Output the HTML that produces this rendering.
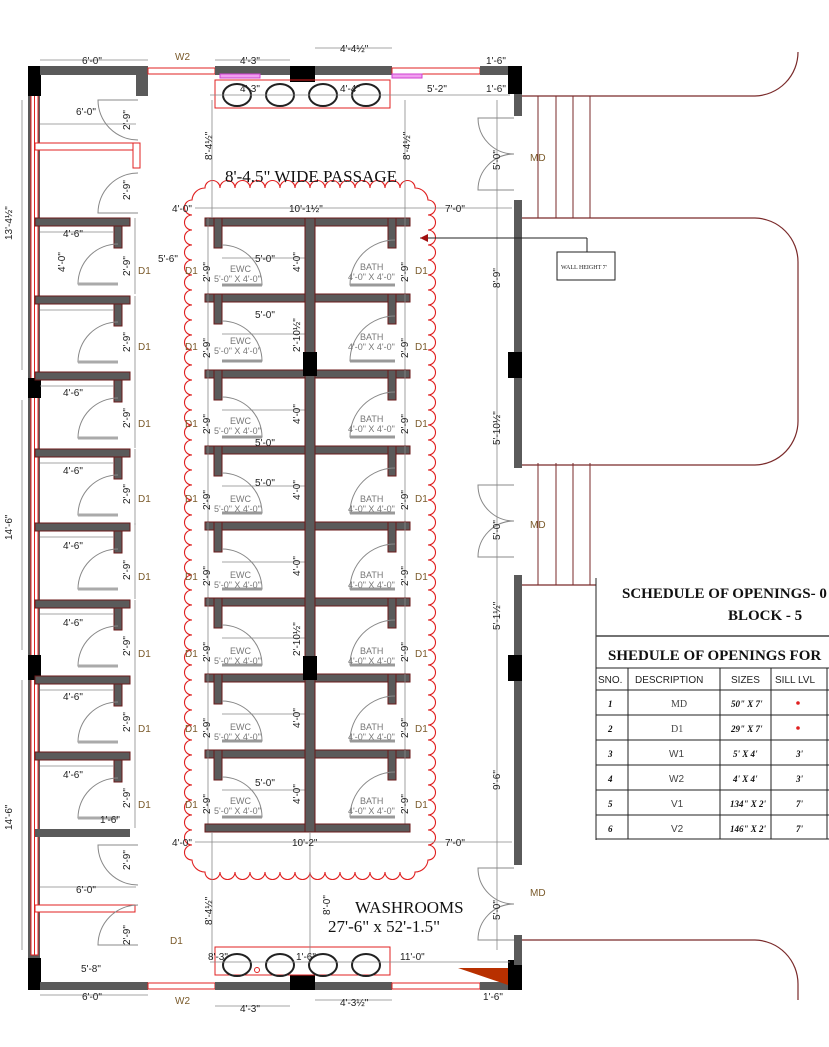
<!DOCTYPE html>
<html><head><meta charset="utf-8"><style>
html,body{margin:0;padding:0;background:#fff;}
svg{display:block;font-family:"Liberation Sans",sans-serif;}
.d{font-size:10px;fill:#222;}
.l{font-size:9px;fill:#777;}
.o{font-size:10px;fill:#7a5a2a;}
</style></head><body>
<svg width="829" height="1047" viewBox="0 0 829 1047" xmlns="http://www.w3.org/2000/svg">
<defs>
<g id="row">
 <rect x="205" y="0" width="205" height="8" fill="#5a5a5a" stroke="#6b1a1a" stroke-width="1"/>
 <rect x="214" y="0" width="8" height="30" fill="#5a5a5a" stroke="#6b1a1a" stroke-width="1"/>
 <rect x="388" y="0" width="8" height="30" fill="#5a5a5a" stroke="#6b1a1a" stroke-width="1"/>
 <path d="M222 67 L262 67 A40 40 0 0 0 222 27" fill="none" stroke="#888" stroke-width="1"/>
 <path d="M395 67 L350 67 A45 45 0 0 1 395 22" fill="none" stroke="#888" stroke-width="1"/>
 <line x1="222" y1="67" x2="262" y2="67" stroke="#999" stroke-width="3"/>
 <line x1="395" y1="67" x2="350" y2="67" stroke="#999" stroke-width="3"/>
 <line x1="222" y1="40" x2="305" y2="40" stroke="#888" stroke-width="0.8"/>
 <line x1="208" y1="0" x2="208" y2="76" stroke="#888" stroke-width="0.8"/>
 <line x1="405" y1="0" x2="405" y2="76" stroke="#888" stroke-width="0.8"/>
</g>
<g id="lrow">
 <rect x="35" y="0" width="95" height="8" fill="#5a5a5a" stroke="#6b1a1a" stroke-width="1"/>
 <rect x="114" y="8" width="8" height="22" fill="#5a5a5a" stroke="#6b1a1a" stroke-width="1"/>
 <path d="M118 66 L78 66 A40 40 0 0 1 118 26" fill="none" stroke="#888" stroke-width="1"/>
 <line x1="118" y1="66" x2="78" y2="66" stroke="#aaa" stroke-width="3"/>
 <line x1="40" y1="14" x2="114" y2="14" stroke="#888" stroke-width="0.8"/>
 <line x1="135" y1="0" x2="135" y2="76" stroke="#888" stroke-width="0.8"/>
</g>
<g id="stair">
 <line x1="538" y1="0" x2="538" y2="122" stroke="#7a2a2a"/>
 <line x1="556" y1="0" x2="556" y2="122" stroke="#7a2a2a"/>
 <line x1="573" y1="0" x2="573" y2="122" stroke="#7a2a2a"/>
 <line x1="590" y1="0" x2="590" y2="122" stroke="#7a2a2a"/>
</g>
<g id="md">
 <path d="M514 0 L478 0 A36 36 0 0 0 514 36 A36 36 0 0 0 478 72 L514 72" fill="none" stroke="#888"/>
</g>
</defs>

<g fill="none" stroke="#7a2a2a" stroke-width="1.2">
 <path d="M522 96 L755 96 A44 44 0 0 0 798 52"/>
 <path d="M522 218 L755 218 A44 44 0 0 1 798 262 L798 420 A44 44 0 0 1 755 465 L522 465"/>
 <path d="M522 585 L596 585"/>
 <path d="M522 940 L755 940 A44 44 0 0 1 798 984 L798 1000"/>
</g>
<use href="#stair" y="96"/>
<use href="#stair" y="463"/>

<rect x="28" y="66" width="12" height="924" fill="#5a5a5a"/>
<rect x="31" y="95" width="7" height="860" fill="#fff" stroke="#e02020" stroke-width="1"/>
<line x1="34.5" y1="95" x2="34.5" y2="955" stroke="#e02020"/>
<rect x="28" y="66" width="13" height="30" fill="#000"/>
<rect x="28" y="378" width="13" height="20" fill="#000"/>
<rect x="28" y="655" width="13" height="25" fill="#000"/>
<rect x="28" y="958" width="13" height="32" fill="#000"/>
<rect x="40" y="66" width="108" height="9" fill="#5a5a5a"/>
<rect x="136" y="66" width="12" height="30" fill="#5a5a5a"/>
<rect x="148" y="68" width="67" height="6" fill="#fff" stroke="#e02020"/>
<rect x="215" y="66" width="75" height="9" fill="#5a5a5a"/>
<rect x="290" y="66" width="25" height="16" fill="#000"/>
<rect x="315" y="66" width="77" height="9" fill="#5a5a5a"/>
<rect x="392" y="68" width="88" height="6" fill="#fff" stroke="#e02020"/>
<rect x="480" y="66" width="30" height="9" fill="#5a5a5a"/>
<rect x="508" y="66" width="14" height="28" fill="#000"/>
<rect x="40" y="982" width="108" height="8" fill="#5a5a5a"/>
<rect x="148" y="983" width="67" height="6" fill="#fff" stroke="#e02020"/>
<rect x="215" y="982" width="75" height="8" fill="#5a5a5a"/>
<rect x="290" y="975" width="25" height="15" fill="#000"/>
<rect x="315" y="982" width="77" height="8" fill="#5a5a5a"/>
<rect x="392" y="983" width="88" height="6" fill="#fff" stroke="#e02020"/>
<rect x="480" y="982" width="30" height="8" fill="#5a5a5a"/>
<rect x="508" y="960" width="14" height="30" fill="#000"/>
<polygon points="458,968 508,968 508,985" fill="#b83000"/>
<rect x="514" y="94" width="8" height="22" fill="#5a5a5a"/>
<rect x="514" y="200" width="8" height="268" fill="#5a5a5a"/>
<rect x="514" y="575" width="8" height="290" fill="#5a5a5a"/>
<rect x="514" y="935" width="8" height="30" fill="#5a5a5a"/>
<rect x="508" y="352" width="14" height="26" fill="#000"/>
<rect x="508" y="655" width="14" height="26" fill="#000"/>
<use href="#md" y="118"/>
<use href="#md" y="485"/>
<use href="#md" y="868"/>
<text x="530" y="161" class="o">MD</text>
<text x="530" y="528" class="o">MD</text>
<text x="530" y="896" class="o">MD</text>

<rect x="35" y="143" width="105" height="7" fill="#fff" stroke="#e02020"/>
<rect x="133" y="143" width="7" height="25" fill="#fff" stroke="#e02020"/>
<use href="#lrow" y="218"/>
<use href="#lrow" y="296"/>
<use href="#lrow" y="372"/>
<use href="#lrow" y="449"/>
<use href="#lrow" y="523"/>
<use href="#lrow" y="600"/>
<use href="#lrow" y="676"/>
<use href="#lrow" y="752"/>
<rect x="35" y="829" width="95" height="8" fill="#5a5a5a"/>
<rect x="35" y="905" width="100" height="7" fill="#fff" stroke="#e02020"/>
<path d="M138 100 L98 100 A40 40 0 0 0 138 140" fill="none" stroke="#888"/>
<path d="M138 213 L98 213 A40 40 0 0 1 138 173" fill="none" stroke="#888"/>
<path d="M138 845 L98 845 A40 40 0 0 0 138 885" fill="none" stroke="#888"/>
<path d="M138 945 L98 945 A40 40 0 0 1 138 905" fill="none" stroke="#888"/>

<use href="#row" y="218"/>
<use href="#row" y="294"/>
<use href="#row" y="370"/>
<use href="#row" y="446"/>
<use href="#row" y="522"/>
<use href="#row" y="598"/>
<use href="#row" y="674"/>
<use href="#row" y="750"/>
<rect x="205" y="824" width="205" height="8" fill="#5a5a5a" stroke="#6b1a1a"/>
<rect x="305" y="218" width="10" height="614" fill="#5a5a5a" stroke="#6b1a1a"/>
<rect x="303" y="352" width="14" height="24" fill="#000"/>
<rect x="303" y="656" width="14" height="24" fill="#000"/>

<!-- scalloped cloud -->
<path fill="none" stroke="#e02020" stroke-width="1.1" d="M205 188
a7.5 7.5 0 0 1 15 0 a7.5 7.5 0 0 1 15 0 a7.5 7.5 0 0 1 15 0 a7.5 7.5 0 0 1 15 0 a7.5 7.5 0 0 1 15 0 a7.5 7.5 0 0 1 15 0 a7.5 7.5 0 0 1 15 0
a7.5 7.5 0 0 1 15 0 a7.5 7.5 0 0 1 15 0 a7.5 7.5 0 0 1 15 0 a7.5 7.5 0 0 1 15 0 a7.5 7.5 0 0 1 15 0 a7.5 7.5 0 0 1 15 0 a7.5 7.5 0 0 1 15 0
a13 13 0 0 1 13 12
a7.5 7.5 0 0 1 0 15 a7.5 7.5 0 0 1 0 15 a7.5 7.5 0 0 1 0 15 a7.5 7.5 0 0 1 0 15 a7.5 7.5 0 0 1 0 15 a7.5 7.5 0 0 1 0 15 a7.5 7.5 0 0 1 0 15 a7.5 7.5 0 0 1 0 15 a7.5 7.5 0 0 1 0 15 a7.5 7.5 0 0 1 0 15 a7.5 7.5 0 0 1 0 15
a7.5 7.5 0 0 1 0 15 a7.5 7.5 0 0 1 0 15 a7.5 7.5 0 0 1 0 15 a7.5 7.5 0 0 1 0 15 a7.5 7.5 0 0 1 0 15 a7.5 7.5 0 0 1 0 15 a7.5 7.5 0 0 1 0 15 a7.5 7.5 0 0 1 0 15 a7.5 7.5 0 0 1 0 15 a7.5 7.5 0 0 1 0 15 a7.5 7.5 0 0 1 0 15
a7.5 7.5 0 0 1 0 15 a7.5 7.5 0 0 1 0 15 a7.5 7.5 0 0 1 0 15 a7.5 7.5 0 0 1 0 15 a7.5 7.5 0 0 1 0 15 a7.5 7.5 0 0 1 0 15 a7.5 7.5 0 0 1 0 15 a7.5 7.5 0 0 1 0 15 a7.5 7.5 0 0 1 0 15 a7.5 7.5 0 0 1 0 15 a7.5 7.5 0 0 1 0 15
a7.5 7.5 0 0 1 0 15 a7.5 7.5 0 0 1 0 15 a7.5 7.5 0 0 1 0 15 a7.5 7.5 0 0 1 0 15 a7.5 7.5 0 0 1 0 15 a7.5 7.5 0 0 1 0 15 a7.5 7.5 0 0 1 0 15 a7.5 7.5 0 0 1 0 15 a7.5 7.5 0 0 1 0 15 a7.5 7.5 0 0 1 0 15 a7.5 7.5 0 0 1 0 15
a13 13 0 0 1 -13 12
a7.5 7.5 0 0 1 -15 0 a7.5 7.5 0 0 1 -15 0 a7.5 7.5 0 0 1 -15 0 a7.5 7.5 0 0 1 -15 0 a7.5 7.5 0 0 1 -15 0 a7.5 7.5 0 0 1 -15 0 a7.5 7.5 0 0 1 -15 0
a7.5 7.5 0 0 1 -15 0 a7.5 7.5 0 0 1 -15 0 a7.5 7.5 0 0 1 -15 0 a7.5 7.5 0 0 1 -15 0 a7.5 7.5 0 0 1 -15 0 a7.5 7.5 0 0 1 -15 0 a7.5 7.5 0 0 1 -15 0
a13 13 0 0 1 -13 -12
a7.5 7.5 0 0 1 0 -15 a7.5 7.5 0 0 1 0 -15 a7.5 7.5 0 0 1 0 -15 a7.5 7.5 0 0 1 0 -15 a7.5 7.5 0 0 1 0 -15 a7.5 7.5 0 0 1 0 -15 a7.5 7.5 0 0 1 0 -15 a7.5 7.5 0 0 1 0 -15 a7.5 7.5 0 0 1 0 -15 a7.5 7.5 0 0 1 0 -15 a7.5 7.5 0 0 1 0 -15
a7.5 7.5 0 0 1 0 -15 a7.5 7.5 0 0 1 0 -15 a7.5 7.5 0 0 1 0 -15 a7.5 7.5 0 0 1 0 -15 a7.5 7.5 0 0 1 0 -15 a7.5 7.5 0 0 1 0 -15 a7.5 7.5 0 0 1 0 -15 a7.5 7.5 0 0 1 0 -15 a7.5 7.5 0 0 1 0 -15 a7.5 7.5 0 0 1 0 -15 a7.5 7.5 0 0 1 0 -15
a7.5 7.5 0 0 1 0 -15 a7.5 7.5 0 0 1 0 -15 a7.5 7.5 0 0 1 0 -15 a7.5 7.5 0 0 1 0 -15 a7.5 7.5 0 0 1 0 -15 a7.5 7.5 0 0 1 0 -15 a7.5 7.5 0 0 1 0 -15 a7.5 7.5 0 0 1 0 -15 a7.5 7.5 0 0 1 0 -15 a7.5 7.5 0 0 1 0 -15 a7.5 7.5 0 0 1 0 -15
a7.5 7.5 0 0 1 0 -15 a7.5 7.5 0 0 1 0 -15 a7.5 7.5 0 0 1 0 -15 a7.5 7.5 0 0 1 0 -15 a7.5 7.5 0 0 1 0 -15 a7.5 7.5 0 0 1 0 -15 a7.5 7.5 0 0 1 0 -15 a7.5 7.5 0 0 1 0 -15 a7.5 7.5 0 0 1 0 -15 a7.5 7.5 0 0 1 0 -15 a7.5 7.5 0 0 1 0 -15
a13 13 0 0 1 13 -12 Z"/>

<rect x="215" y="80" width="175" height="28" fill="none" stroke="#e02020"/>
<rect x="215" y="947" width="175" height="28" fill="none" stroke="#e02020"/>
<g fill="none" stroke="#222" stroke-width="2">
 <ellipse cx="237" cy="95" rx="14" ry="11"/><ellipse cx="280" cy="95" rx="14" ry="11"/><ellipse cx="323" cy="95" rx="14" ry="11"/><ellipse cx="366" cy="95" rx="14" ry="11"/>
 <ellipse cx="237" cy="965" rx="14" ry="11"/><ellipse cx="280" cy="965" rx="14" ry="11"/><ellipse cx="323" cy="965" rx="14" ry="11"/><ellipse cx="366" cy="965" rx="14" ry="11"/>
</g>
<circle cx="257" cy="970" r="2.5" fill="none" stroke="#e02020"/>
<rect x="220" y="74" width="40" height="4" fill="#f0a0f0" stroke="#d040d0"/>
<rect x="392" y="74" width="30" height="4" fill="#f0a0f0" stroke="#d040d0"/>

<g stroke="#888" stroke-width="0.8">
 <line x1="40" y1="60" x2="148" y2="60"/><line x1="215" y1="60" x2="290" y2="60"/><line x1="315" y1="48" x2="392" y2="48"/>
 <line x1="40" y1="995" x2="148" y2="995"/><line x1="215" y1="1006" x2="290" y2="1006"/><line x1="315" y1="1000" x2="392" y2="1000"/>
 <line x1="210" y1="95" x2="510" y2="95"/><line x1="210" y1="962" x2="510" y2="962"/>
 <line x1="195" y1="208" x2="512" y2="208"/><line x1="195" y1="842" x2="512" y2="842"/>
 <line x1="212" y1="100" x2="212" y2="218"/><line x1="405" y1="100" x2="405" y2="218"/>
 <line x1="212" y1="832" x2="212" y2="960"/><line x1="310" y1="832" x2="310" y2="960"/>
 <line x1="497" y1="100" x2="497" y2="950"/>
 <line x1="22" y1="100" x2="22" y2="370"/><line x1="22" y1="400" x2="22" y2="650"/><line x1="22" y1="680" x2="22" y2="950"/>
 <line x1="40" y1="124" x2="136" y2="124"/><line x1="40" y1="887" x2="136" y2="887"/>
</g>
<line x1="420" y1="238" x2="587" y2="238" stroke="#222"/>
<line x1="587" y1="238" x2="587" y2="252" stroke="#222"/>
<polygon points="420,238 428,234 428,242" fill="#a01010"/>
<rect x="557" y="252" width="58" height="28" fill="#fff" stroke="#222"/>
<text x="561" y="269" style="font-size:6px;font-family:'Liberation Serif',serif" fill="#222">WALL HEIGHT 7'</text>

<text x="225" y="182" style="font-family:'Liberation Serif',serif;font-size:17px" fill="#111">8'-4.5" WIDE PASSAGE</text>
<text x="355" y="913" style="font-family:'Liberation Serif',serif;font-size:17px" fill="#111">WASHROOMS</text>
<text x="328" y="932" style="font-family:'Liberation Serif',serif;font-size:17px" fill="#111">27'-6" x 52'-1.5"</text>

<text x="82" y="64" class="d">6'-0"</text><text x="240" y="64" class="d">4'-3"</text><text x="340" y="52" class="d">4'-4½"</text>
<text x="486" y="64" class="d">1'-6"</text><text x="175" y="60" class="o">W2</text>
<text x="240" y="92" class="d">4'-3"</text><text x="340" y="92" class="d">4'-4"</text><text x="427" y="92" class="d">5'-2"</text><text x="486" y="92" class="d">1'-6"</text>
<text x="76" y="115" class="d">6'-0"</text><text x="172" y="212" class="d">4'-0"</text><text x="289" y="212" class="d">10'-1½"</text><text x="445" y="212" class="d">7'-0"</text>
<text x="63" y="237" class="d">4'-6"</text><text x="158" y="262" class="d">5'-6"</text>
<text x="172" y="846" class="d">4'-0"</text><text x="292" y="846" class="d">10'-2"</text><text x="445" y="846" class="d">7'-0"</text>
<text x="76" y="893" class="d">6'-0"</text><text x="81" y="972" class="d">5'-8"</text><text x="82" y="1000" class="d">6'-0"</text>
<text x="208" y="960" class="d">8'-3"</text><text x="296" y="960" class="d">1'-6"</text><text x="400" y="960" class="d">11'-0"</text>
<text x="175" y="1004" class="o">W2</text><text x="240" y="1012" class="d">4'-3"</text><text x="340" y="1006" class="d">4'-3½"</text><text x="483" y="1000" class="d">1'-6"</text>
<text x="63" y="396" class="d">4'-6"</text><text x="63" y="474" class="d">4'-6"</text><text x="63" y="549" class="d">4'-6"</text><text x="63" y="626" class="d">4'-6"</text><text x="63" y="700" class="d">4'-6"</text><text x="63" y="778" class="d">4'-6"</text>
<text x="100" y="823" class="d">1'-6"</text>
<g class="d">
<text transform="translate(12,240) rotate(-90)">13'-4½"</text>
<text transform="translate(12,540) rotate(-90)">14'-6"</text>
<text transform="translate(12,830) rotate(-90)">14'-6"</text>
<text transform="translate(212,160) rotate(-90)">8'-4½"</text>
<text transform="translate(410,160) rotate(-90)">8'-4½"</text>
<text transform="translate(212,925) rotate(-90)">8'-4½"</text>
<text transform="translate(330,915) rotate(-90)">8'-0"</text>
<text transform="translate(500,170) rotate(-90)">5'-0"</text>
<text transform="translate(500,288) rotate(-90)">8'-9"</text>
<text transform="translate(500,445) rotate(-90)">5'-10½"</text>
<text transform="translate(500,540) rotate(-90)">5'-0"</text>
<text transform="translate(500,630) rotate(-90)">5'-1½"</text>
<text transform="translate(500,790) rotate(-90)">9'-6"</text>
<text transform="translate(500,920) rotate(-90)">5'-0"</text>
<text transform="translate(130,130) rotate(-90)">2'-9"</text>
<text transform="translate(130,200) rotate(-90)">2'-9"</text>
<text transform="translate(130,276) rotate(-90)">2'-9"</text>
<text transform="translate(130,352) rotate(-90)">2'-9"</text>
<text transform="translate(130,428) rotate(-90)">2'-9"</text>
<text transform="translate(130,504) rotate(-90)">2'-9"</text>
<text transform="translate(130,580) rotate(-90)">2'-9"</text>
<text transform="translate(130,656) rotate(-90)">2'-9"</text>
<text transform="translate(130,732) rotate(-90)">2'-9"</text>
<text transform="translate(130,808) rotate(-90)">2'-9"</text>
<text transform="translate(130,870) rotate(-90)">2'-9"</text>
<text transform="translate(130,945) rotate(-90)">2'-9"</text>
<text transform="translate(65,272) rotate(-90)">4'-0"</text>
</g>
<g class="d">
<text transform="translate(210,282) rotate(-90)">2'-9"</text><text transform="translate(408,282) rotate(-90)">2'-9"</text><text transform="translate(300,272) rotate(-90)">4'-0"</text>
<text transform="translate(210,358) rotate(-90)">2'-9"</text><text transform="translate(408,358) rotate(-90)">2'-9"</text><text transform="translate(300,352) rotate(-90)">2'-10½"</text>
<text transform="translate(210,434) rotate(-90)">2'-9"</text><text transform="translate(408,434) rotate(-90)">2'-9"</text><text transform="translate(300,424) rotate(-90)">4'-0"</text>
<text transform="translate(210,510) rotate(-90)">2'-9"</text><text transform="translate(408,510) rotate(-90)">2'-9"</text><text transform="translate(300,500) rotate(-90)">4'-0"</text>
<text transform="translate(210,586) rotate(-90)">2'-9"</text><text transform="translate(408,586) rotate(-90)">2'-9"</text><text transform="translate(300,576) rotate(-90)">4'-0"</text>
<text transform="translate(210,662) rotate(-90)">2'-9"</text><text transform="translate(408,662) rotate(-90)">2'-9"</text><text transform="translate(300,656) rotate(-90)">2'-10½"</text>
<text transform="translate(210,738) rotate(-90)">2'-9"</text><text transform="translate(408,738) rotate(-90)">2'-9"</text><text transform="translate(300,728) rotate(-90)">4'-0"</text>
<text transform="translate(210,814) rotate(-90)">2'-9"</text><text transform="translate(408,814) rotate(-90)">2'-9"</text><text transform="translate(300,804) rotate(-90)">4'-0"</text>
<text x="255" y="262">5'-0"</text><text x="255" y="318">5'-0"</text><text x="255" y="446">5'-0"</text><text x="255" y="486">5'-0"</text><text x="255" y="786">5'-0"</text>
</g>
<g class="l">
<text x="230" y="272">EWC</text><text x="214" y="282">5'-0" X 4'-0"</text><text x="360" y="270">BATH</text><text x="348" y="280">4'-0" X 4'-0"</text>
<text x="230" y="344">EWC</text><text x="214" y="354">5'-0" X 4'-0"</text><text x="360" y="340">BATH</text><text x="348" y="350">4'-0" X 4'-0"</text>
<text x="230" y="424">EWC</text><text x="214" y="434">5'-0" X 4'-0"</text><text x="360" y="422">BATH</text><text x="348" y="432">4'-0" X 4'-0"</text>
<text x="230" y="502">EWC</text><text x="214" y="512">5'-0" X 4'-0"</text><text x="360" y="502">BATH</text><text x="348" y="512">4'-0" X 4'-0"</text>
<text x="230" y="578">EWC</text><text x="214" y="588">5'-0" X 4'-0"</text><text x="360" y="578">BATH</text><text x="348" y="588">4'-0" X 4'-0"</text>
<text x="230" y="654">EWC</text><text x="214" y="664">5'-0" X 4'-0"</text><text x="360" y="654">BATH</text><text x="348" y="664">4'-0" X 4'-0"</text>
<text x="230" y="730">EWC</text><text x="214" y="740">5'-0" X 4'-0"</text><text x="360" y="730">BATH</text><text x="348" y="740">4'-0" X 4'-0"</text>
<text x="230" y="804">EWC</text><text x="214" y="814">5'-0" X 4'-0"</text><text x="360" y="804">BATH</text><text x="348" y="814">4'-0" X 4'-0"</text>
</g>
<g class="o">
<text x="138" y="274">D1</text><text x="185" y="274">D1</text><text x="415" y="274">D1</text>
<text x="138" y="350">D1</text><text x="185" y="350">D1</text><text x="415" y="350">D1</text>
<text x="138" y="427">D1</text><text x="185" y="427">D1</text><text x="415" y="427">D1</text>
<text x="138" y="502">D1</text><text x="185" y="502">D1</text><text x="415" y="502">D1</text>
<text x="138" y="580">D1</text><text x="185" y="580">D1</text><text x="415" y="580">D1</text>
<text x="138" y="657">D1</text><text x="185" y="657">D1</text><text x="415" y="657">D1</text>
<text x="138" y="732">D1</text><text x="185" y="732">D1</text><text x="415" y="732">D1</text>
<text x="138" y="808">D1</text><text x="185" y="808">D1</text><text x="415" y="808">D1</text>
<text x="170" y="944">D1</text>
</g>

<g font-family="Liberation Serif, serif">
<line x1="596" y1="578" x2="596" y2="840" stroke="#222"/>
<line x1="596" y1="636" x2="829" y2="636" stroke="#444" stroke-width="1.5"/>
<text x="622" y="598" font-size="15" font-weight="bold" fill="#111">SCHEDULE OF OPENINGS- 0</text>
<text x="728" y="620" font-size="15" font-weight="bold" fill="#111">BLOCK - 5</text>
<text x="608" y="660" font-size="15" font-weight="bold" fill="#111">SHEDULE OF OPENINGS FOR</text>
</g>
<g stroke="#222" fill="none">
<rect x="596" y="668" width="240" height="171"/>
<line x1="596" y1="690" x2="829" y2="690"/><line x1="596" y1="715" x2="829" y2="715"/><line x1="596" y1="740" x2="829" y2="740"/>
<line x1="596" y1="765" x2="829" y2="765"/><line x1="596" y1="790" x2="829" y2="790"/><line x1="596" y1="815" x2="829" y2="815"/>
<line x1="628" y1="668" x2="628" y2="839"/><line x1="720" y1="668" x2="720" y2="839"/><line x1="771" y1="668" x2="771" y2="839"/><line x1="827" y1="668" x2="827" y2="839"/>
</g>
<g font-size="10" fill="#222">
<text x="598" y="683">SNO.</text><text x="635" y="683">DESCRIPTION</text><text x="731" y="683">SIZES</text><text x="775" y="683">SILL LVL</text>
<text x="671" y="707" font-family="Liberation Serif,serif" fill="#444">MD</text><text x="671" y="732" font-family="Liberation Serif,serif" fill="#444">D1</text>
<text x="669" y="757" fill="#444">W1</text><text x="669" y="782" fill="#444">W2</text><text x="671" y="807" fill="#444">V1</text><text x="671" y="832" fill="#444">V2</text>
</g>
<g font-family="Liberation Serif, serif" font-weight="bold" font-style="italic" font-size="9" fill="#111">
<text x="608" y="707">1</text><text x="608" y="732">2</text><text x="608" y="757">3</text><text x="608" y="782">4</text><text x="608" y="807">5</text><text x="608" y="832">6</text>
<text x="731" y="707">50" X 7'</text><text x="731" y="732">29" X 7'</text><text x="733" y="757">5' X 4'</text><text x="733" y="782">4' X 4'</text><text x="730" y="807">134" X 2'</text><text x="730" y="832">146" X 2'</text>
<text x="796" y="757">3'</text><text x="796" y="782">3'</text><text x="796" y="807">7'</text><text x="796" y="832">7'</text>
</g>
<circle cx="798" cy="703" r="1.8" fill="#e02020"/><circle cx="798" cy="728" r="1.8" fill="#e02020"/>
</svg>
</body></html>
